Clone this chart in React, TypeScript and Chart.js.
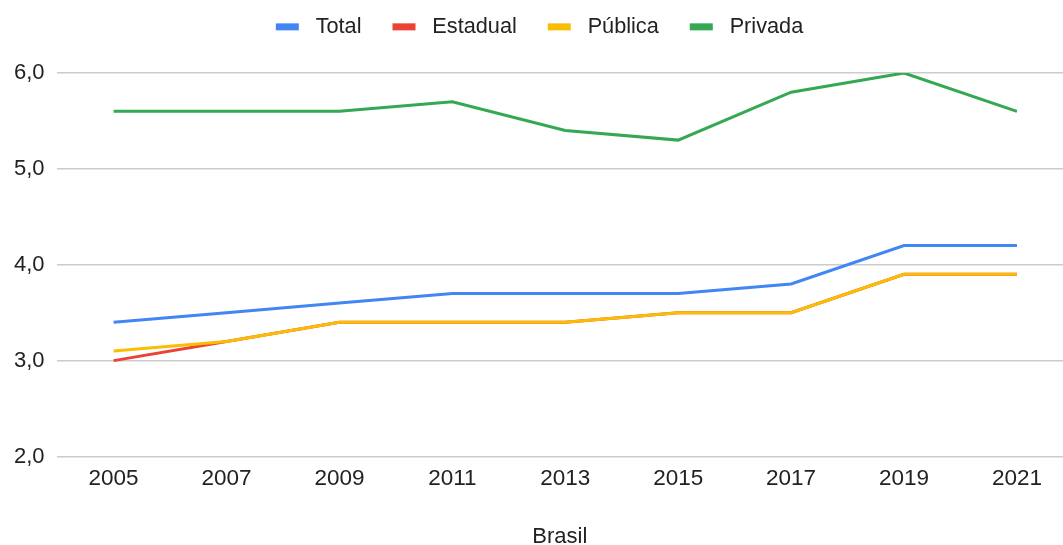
import React, { useEffect, useRef } from 'react';
import { Chart, registerables } from 'chart.js';

Chart.register(...registerables);

const years = ['2005', '2007', '2009', '2011', '2013', '2015', '2017', '2019', '2021'];
const total = [3.4, 3.5, 3.6, 3.7, 3.7, 3.7, 3.8, 4.2, 4.2];
const estadual = [3.0, 3.2, 3.4, 3.4, 3.4, 3.5, 3.5, 3.9, 3.9];
const publica = [3.1, 3.2, 3.4, 3.4, 3.4, 3.5, 3.5, 3.9, 3.9];
const privada = [5.6, 5.6, 5.6, 5.7, 5.4, 5.3, 5.8, 6.0, 5.6];
const seriesNames = ['Total', 'Estadual', 'Pública', 'Privada'];
const seriesColors = ['#4285F4', '#EA4335', '#FBBC04', '#34A853'];
const yMin = 2;
const yMax = 6;
const xTitle = 'Brasil';

const FONT = "Arial, 'Liberation Sans', sans-serif";

const legendHeightPlugin = {
  id: 'legendHeight',
  beforeInit(chart: any) {
    const legend = chart.legend;
    if (!legend) return;
    const orig = legend.fit;
    legend.fit = function () {
      orig.call(this);
      this.height = 88;
    };
  },
  afterLayout(chart: any) {
    const legend = chart.legend;
    if (!legend) return;
    legend.left += 7;
    legend.right += 7;
  },
};

export default function App() {
  const ref = useRef<HTMLCanvasElement | null>(null);

  useEffect(() => {
    document.body.style.margin = '0';
    if (!ref.current) return;
    const all = [total, estadual, publica, privada];
    const orders = [4, 3, 2, 1];
    const datasets = all.map((arr, k) => ({
      label: seriesNames[k],
      data: arr.map((v, i) => ({ x: i, y: v })),
      borderColor: seriesColors[k],
      backgroundColor: seriesColors[k],
      borderWidth: 3,
      pointRadius: 0,
      pointHoverRadius: 0,
      tension: 0,
      order: orders[k],
    }));

    const chart = new Chart(ref.current, {
      type: 'line',
      data: { datasets },
      plugins: [legendHeightPlugin],
      options: {
        responsive: false,
        animation: false,
        layout: { padding: { left: 2, right: 0, top: -15, bottom: 0 } },
        plugins: {
          tooltip: { enabled: false },
          legend: {
            position: 'top',
            labels: {
              boxWidth: 23,
              boxHeight: 7,
              padding: 31,
              color: '#222222',
              font: { family: FONT, size: 21.7 },
              sort: (a: any, b: any) => a.datasetIndex - b.datasetIndex,
              generateLabels: (c: any) => {
                const base = (Chart.defaults.plugins.legend.labels as any).generateLabels(c);
                return base.map((l: any) => ({
                  ...l,
                  text: ' ' + l.text,
                  lineWidth: 0,
                  fillStyle: seriesColors[l.datasetIndex],
                }));
              },
            },
          },
        },
        scales: {
          x: {
            type: 'linear',
            min: -0.505,
            max: 8.408,
            grid: { display: false, drawTicks: false },
            border: { display: false },
            afterBuildTicks: (axis: any) => {
              axis.ticks = years.map((_, i) => ({ value: i }));
            },
            ticks: {
              autoSkip: false,
              maxRotation: 0,
              padding: 9,
              color: '#222222',
              font: { family: FONT, size: 22.5 },
              callback: (v: any) => years[v as number] ?? '',
            },
            title: {
              display: true,
              text: xTitle,
              color: '#222222',
              font: { family: FONT, size: 22, lineHeight: 1 },
              padding: { top: 24.5, bottom: -3 },
            },
          },
          y: {
            min: yMin,
            max: yMax,
            grid: { color: '#cccccc', lineWidth: 1.5, drawTicks: false },
            border: { display: false },
            ticks: {
              stepSize: 1,
              padding: 12,
              color: '#222222',
              font: { family: FONT, size: 22 },
              callback: (v: any) => Number(v).toFixed(1).replace('.', ','),
            },
          },
        },
      },
    } as any);
    return () => chart.destroy();
  }, []);

  return (
    <div style={{ position: 'absolute', left: 0, top: 0, width: 1063, height: 545 }}>
      <canvas ref={ref} width={1063} height={545} />
    </div>
  );
}
